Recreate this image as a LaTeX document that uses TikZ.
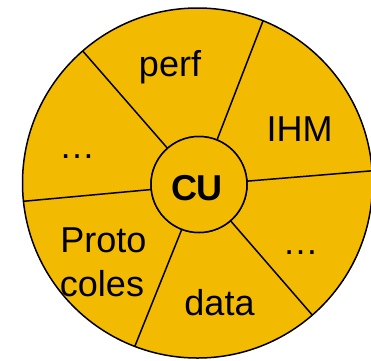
\documentclass[tikz,border=0pt]{standalone}
\usepackage{fontspec}
\setmainfont{Liberation Sans}
\definecolor{gold}{RGB}{242,186,0}
\begin{document}
\begin{tikzpicture}[x=1pt,y=-1pt,
  disc/.style={circle,draw=black,fill=gold,line width=1.5pt,inner sep=0pt,outer sep=0pt},
  divider/.style={draw=black,line width=1.5pt},
  lbl/.style={font=\fontsize{36}{45}\selectfont,anchor=base,inner sep=0pt}]
\useasboundingbox (0,0) rectangle (371,360);
\node[disc,minimum size=350pt] (wheel) at (197.5,183) {};
\node[disc,minimum size=96pt] (cu) at (199,184.5) {};
\foreach \a in {131.5,68,4.3,-49.6,-111.8,186}{
  \draw[divider] (cu.\a) -- (wheel.\a);
}
\node[disc,minimum size=96pt] (cu2) at (199,184.5) {};
\node[lbl,font=\fontsize{36}{45}\selectfont\bfseries] (cut) at (197,200.5) {CU};
\node[lbl] (perf) at (170,76.7) {perf};
\node[lbl] (ihm) at (299.5,141.7) {IHM};
\node[lbl] (dl) at (77,158) {…};
\node[lbl] (dr) at (300.5,254.5) {…};
\node[lbl] (proto) at (103.3,252.3) {Proto};
\node[lbl] (coles) at (102,296.7) {coles};
\node[lbl] (data) at (219.5,315) {data};
\end{tikzpicture}
\end{document}
